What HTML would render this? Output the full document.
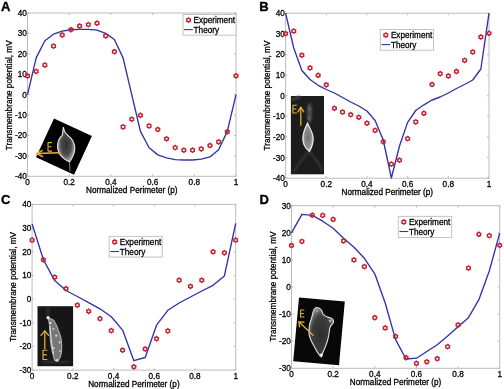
<!DOCTYPE html>
<html><head><meta charset="utf-8"><style>
html,body{margin:0;padding:0;background:#fff;}
svg{display:block;will-change:transform;filter:blur(0.3px);}
.t{font-family:"Liberation Sans", sans-serif;font-size:8.2px;fill:#000;stroke:#000;stroke-width:0.28px;}
.l{font-family:"Liberation Sans", sans-serif;font-size:8.2px;fill:#000;stroke:#000;stroke-width:0.28px;}
.L{font-family:"Liberation Sans", sans-serif;font-size:13px;font-weight:bold;fill:#000;stroke:#000;stroke-width:0.35px;}
</style></head><body>
<svg width="504" height="389" viewBox="0 0 504 389">
<rect width="504" height="389" fill="#fff"/>
<rect x="27.5" y="13.0" width="208.50" height="163.30" fill="none" stroke="#bcbcbc" stroke-width="1"/>
<line x1="27.50" y1="176.3" x2="27.50" y2="174.30" stroke="#bcbcbc" stroke-width="1"/>
<line x1="27.50" y1="13.0" x2="27.50" y2="15.00" stroke="#bcbcbc" stroke-width="1"/>
<text x="27.50" y="184.80" text-anchor="middle" class="t">0</text>
<line x1="69.20" y1="176.3" x2="69.20" y2="174.30" stroke="#bcbcbc" stroke-width="1"/>
<line x1="69.20" y1="13.0" x2="69.20" y2="15.00" stroke="#bcbcbc" stroke-width="1"/>
<text x="69.20" y="184.80" text-anchor="middle" class="t">0.2</text>
<line x1="110.90" y1="176.3" x2="110.90" y2="174.30" stroke="#bcbcbc" stroke-width="1"/>
<line x1="110.90" y1="13.0" x2="110.90" y2="15.00" stroke="#bcbcbc" stroke-width="1"/>
<text x="110.90" y="184.80" text-anchor="middle" class="t">0.4</text>
<line x1="152.60" y1="176.3" x2="152.60" y2="174.30" stroke="#bcbcbc" stroke-width="1"/>
<line x1="152.60" y1="13.0" x2="152.60" y2="15.00" stroke="#bcbcbc" stroke-width="1"/>
<text x="152.60" y="184.80" text-anchor="middle" class="t">0.6</text>
<line x1="194.30" y1="176.3" x2="194.30" y2="174.30" stroke="#bcbcbc" stroke-width="1"/>
<line x1="194.30" y1="13.0" x2="194.30" y2="15.00" stroke="#bcbcbc" stroke-width="1"/>
<text x="194.30" y="184.80" text-anchor="middle" class="t">0.8</text>
<line x1="236.00" y1="176.3" x2="236.00" y2="174.30" stroke="#bcbcbc" stroke-width="1"/>
<line x1="236.00" y1="13.0" x2="236.00" y2="15.00" stroke="#bcbcbc" stroke-width="1"/>
<text x="236.00" y="184.80" text-anchor="middle" class="t">1</text>
<line x1="27.5" y1="13.00" x2="29.5" y2="13.00" stroke="#bcbcbc" stroke-width="1"/>
<line x1="236" y1="13.00" x2="234" y2="13.00" stroke="#bcbcbc" stroke-width="1"/>
<text x="26.80" y="16.00" text-anchor="end" class="t">40</text>
<line x1="27.5" y1="33.41" x2="29.5" y2="33.41" stroke="#bcbcbc" stroke-width="1"/>
<line x1="236" y1="33.41" x2="234" y2="33.41" stroke="#bcbcbc" stroke-width="1"/>
<text x="26.80" y="36.41" text-anchor="end" class="t">30</text>
<line x1="27.5" y1="53.83" x2="29.5" y2="53.83" stroke="#bcbcbc" stroke-width="1"/>
<line x1="236" y1="53.83" x2="234" y2="53.83" stroke="#bcbcbc" stroke-width="1"/>
<text x="26.80" y="56.83" text-anchor="end" class="t">20</text>
<line x1="27.5" y1="74.24" x2="29.5" y2="74.24" stroke="#bcbcbc" stroke-width="1"/>
<line x1="236" y1="74.24" x2="234" y2="74.24" stroke="#bcbcbc" stroke-width="1"/>
<text x="26.80" y="77.24" text-anchor="end" class="t">10</text>
<line x1="27.5" y1="94.65" x2="29.5" y2="94.65" stroke="#bcbcbc" stroke-width="1"/>
<line x1="236" y1="94.65" x2="234" y2="94.65" stroke="#bcbcbc" stroke-width="1"/>
<text x="26.80" y="97.65" text-anchor="end" class="t">0</text>
<line x1="27.5" y1="115.06" x2="29.5" y2="115.06" stroke="#bcbcbc" stroke-width="1"/>
<line x1="236" y1="115.06" x2="234" y2="115.06" stroke="#bcbcbc" stroke-width="1"/>
<text x="26.80" y="118.06" text-anchor="end" class="t">-10</text>
<line x1="27.5" y1="135.48" x2="29.5" y2="135.48" stroke="#bcbcbc" stroke-width="1"/>
<line x1="236" y1="135.48" x2="234" y2="135.48" stroke="#bcbcbc" stroke-width="1"/>
<text x="26.80" y="138.48" text-anchor="end" class="t">-20</text>
<line x1="27.5" y1="155.89" x2="29.5" y2="155.89" stroke="#bcbcbc" stroke-width="1"/>
<line x1="236" y1="155.89" x2="234" y2="155.89" stroke="#bcbcbc" stroke-width="1"/>
<text x="26.80" y="158.89" text-anchor="end" class="t">-30</text>
<line x1="27.5" y1="176.30" x2="29.5" y2="176.30" stroke="#bcbcbc" stroke-width="1"/>
<line x1="236" y1="176.30" x2="234" y2="176.30" stroke="#bcbcbc" stroke-width="1"/>
<text x="26.80" y="179.30" text-anchor="end" class="t">-40</text>
<text x="131.75" y="193.10" text-anchor="middle" class="l">Normalized Perimeter (p)</text>
<text transform="translate(12.20,95.30) rotate(-90)" x="0" y="0" text-anchor="middle" class="l">Transmembrane potential, mV</text>
<text x="1.0" y="11.2" class="L">A</text>
<rect x="285.6" y="13.2" width="203.40" height="165.00" fill="none" stroke="#bcbcbc" stroke-width="1"/>
<line x1="285.60" y1="178.2" x2="285.60" y2="176.20" stroke="#bcbcbc" stroke-width="1"/>
<line x1="285.60" y1="13.2" x2="285.60" y2="15.20" stroke="#bcbcbc" stroke-width="1"/>
<text x="285.60" y="186.70" text-anchor="middle" class="t">0</text>
<line x1="326.28" y1="178.2" x2="326.28" y2="176.20" stroke="#bcbcbc" stroke-width="1"/>
<line x1="326.28" y1="13.2" x2="326.28" y2="15.20" stroke="#bcbcbc" stroke-width="1"/>
<text x="326.28" y="186.70" text-anchor="middle" class="t">0.2</text>
<line x1="366.96" y1="178.2" x2="366.96" y2="176.20" stroke="#bcbcbc" stroke-width="1"/>
<line x1="366.96" y1="13.2" x2="366.96" y2="15.20" stroke="#bcbcbc" stroke-width="1"/>
<text x="366.96" y="186.70" text-anchor="middle" class="t">0.4</text>
<line x1="407.64" y1="178.2" x2="407.64" y2="176.20" stroke="#bcbcbc" stroke-width="1"/>
<line x1="407.64" y1="13.2" x2="407.64" y2="15.20" stroke="#bcbcbc" stroke-width="1"/>
<text x="407.64" y="186.70" text-anchor="middle" class="t">0.6</text>
<line x1="448.32" y1="178.2" x2="448.32" y2="176.20" stroke="#bcbcbc" stroke-width="1"/>
<line x1="448.32" y1="13.2" x2="448.32" y2="15.20" stroke="#bcbcbc" stroke-width="1"/>
<text x="448.32" y="186.70" text-anchor="middle" class="t">0.8</text>
<line x1="489.00" y1="178.2" x2="489.00" y2="176.20" stroke="#bcbcbc" stroke-width="1"/>
<line x1="489.00" y1="13.2" x2="489.00" y2="15.20" stroke="#bcbcbc" stroke-width="1"/>
<text x="489.00" y="186.70" text-anchor="middle" class="t">1</text>
<line x1="285.6" y1="13.20" x2="287.6" y2="13.20" stroke="#bcbcbc" stroke-width="1"/>
<line x1="489" y1="13.20" x2="487" y2="13.20" stroke="#bcbcbc" stroke-width="1"/>
<text x="284.90" y="16.20" text-anchor="end" class="t">40</text>
<line x1="285.6" y1="33.83" x2="287.6" y2="33.83" stroke="#bcbcbc" stroke-width="1"/>
<line x1="489" y1="33.83" x2="487" y2="33.83" stroke="#bcbcbc" stroke-width="1"/>
<text x="284.90" y="36.83" text-anchor="end" class="t">30</text>
<line x1="285.6" y1="54.45" x2="287.6" y2="54.45" stroke="#bcbcbc" stroke-width="1"/>
<line x1="489" y1="54.45" x2="487" y2="54.45" stroke="#bcbcbc" stroke-width="1"/>
<text x="284.90" y="57.45" text-anchor="end" class="t">20</text>
<line x1="285.6" y1="75.08" x2="287.6" y2="75.08" stroke="#bcbcbc" stroke-width="1"/>
<line x1="489" y1="75.08" x2="487" y2="75.08" stroke="#bcbcbc" stroke-width="1"/>
<text x="284.90" y="78.08" text-anchor="end" class="t">10</text>
<line x1="285.6" y1="95.70" x2="287.6" y2="95.70" stroke="#bcbcbc" stroke-width="1"/>
<line x1="489" y1="95.70" x2="487" y2="95.70" stroke="#bcbcbc" stroke-width="1"/>
<text x="284.90" y="98.70" text-anchor="end" class="t">0</text>
<line x1="285.6" y1="116.33" x2="287.6" y2="116.33" stroke="#bcbcbc" stroke-width="1"/>
<line x1="489" y1="116.33" x2="487" y2="116.33" stroke="#bcbcbc" stroke-width="1"/>
<text x="284.90" y="119.33" text-anchor="end" class="t">-10</text>
<line x1="285.6" y1="136.95" x2="287.6" y2="136.95" stroke="#bcbcbc" stroke-width="1"/>
<line x1="489" y1="136.95" x2="487" y2="136.95" stroke="#bcbcbc" stroke-width="1"/>
<text x="284.90" y="139.95" text-anchor="end" class="t">-20</text>
<line x1="285.6" y1="157.57" x2="287.6" y2="157.57" stroke="#bcbcbc" stroke-width="1"/>
<line x1="489" y1="157.57" x2="487" y2="157.57" stroke="#bcbcbc" stroke-width="1"/>
<text x="284.90" y="160.57" text-anchor="end" class="t">-30</text>
<line x1="285.6" y1="178.20" x2="287.6" y2="178.20" stroke="#bcbcbc" stroke-width="1"/>
<line x1="489" y1="178.20" x2="487" y2="178.20" stroke="#bcbcbc" stroke-width="1"/>
<text x="284.90" y="181.20" text-anchor="end" class="t">-40</text>
<text x="387.30" y="195.00" text-anchor="middle" class="l">Normalized Perimeter (p)</text>
<text transform="translate(270.30,95.55) rotate(-90)" x="0" y="0" text-anchor="middle" class="l">Transmembrane potential, mV</text>
<text x="259.3" y="11.0" class="L">B</text>
<rect x="32.1" y="204.4" width="203.60" height="165.70" fill="none" stroke="#bcbcbc" stroke-width="1"/>
<line x1="32.10" y1="370.1" x2="32.10" y2="368.10" stroke="#bcbcbc" stroke-width="1"/>
<line x1="32.10" y1="204.4" x2="32.10" y2="206.40" stroke="#bcbcbc" stroke-width="1"/>
<text x="32.10" y="378.60" text-anchor="middle" class="t">0</text>
<line x1="72.82" y1="370.1" x2="72.82" y2="368.10" stroke="#bcbcbc" stroke-width="1"/>
<line x1="72.82" y1="204.4" x2="72.82" y2="206.40" stroke="#bcbcbc" stroke-width="1"/>
<text x="72.82" y="378.60" text-anchor="middle" class="t">0.2</text>
<line x1="113.54" y1="370.1" x2="113.54" y2="368.10" stroke="#bcbcbc" stroke-width="1"/>
<line x1="113.54" y1="204.4" x2="113.54" y2="206.40" stroke="#bcbcbc" stroke-width="1"/>
<text x="113.54" y="378.60" text-anchor="middle" class="t">0.4</text>
<line x1="154.26" y1="370.1" x2="154.26" y2="368.10" stroke="#bcbcbc" stroke-width="1"/>
<line x1="154.26" y1="204.4" x2="154.26" y2="206.40" stroke="#bcbcbc" stroke-width="1"/>
<text x="154.26" y="378.60" text-anchor="middle" class="t">0.6</text>
<line x1="194.98" y1="370.1" x2="194.98" y2="368.10" stroke="#bcbcbc" stroke-width="1"/>
<line x1="194.98" y1="204.4" x2="194.98" y2="206.40" stroke="#bcbcbc" stroke-width="1"/>
<text x="194.98" y="378.60" text-anchor="middle" class="t">0.8</text>
<line x1="235.70" y1="370.1" x2="235.70" y2="368.10" stroke="#bcbcbc" stroke-width="1"/>
<line x1="235.70" y1="204.4" x2="235.70" y2="206.40" stroke="#bcbcbc" stroke-width="1"/>
<text x="235.70" y="378.60" text-anchor="middle" class="t">1</text>
<line x1="32.1" y1="204.40" x2="34.1" y2="204.40" stroke="#bcbcbc" stroke-width="1"/>
<line x1="235.7" y1="204.40" x2="233.7" y2="204.40" stroke="#bcbcbc" stroke-width="1"/>
<text x="31.40" y="207.40" text-anchor="end" class="t">40</text>
<line x1="32.1" y1="228.07" x2="34.1" y2="228.07" stroke="#bcbcbc" stroke-width="1"/>
<line x1="235.7" y1="228.07" x2="233.7" y2="228.07" stroke="#bcbcbc" stroke-width="1"/>
<text x="31.40" y="231.07" text-anchor="end" class="t">30</text>
<line x1="32.1" y1="251.74" x2="34.1" y2="251.74" stroke="#bcbcbc" stroke-width="1"/>
<line x1="235.7" y1="251.74" x2="233.7" y2="251.74" stroke="#bcbcbc" stroke-width="1"/>
<text x="31.40" y="254.74" text-anchor="end" class="t">20</text>
<line x1="32.1" y1="275.41" x2="34.1" y2="275.41" stroke="#bcbcbc" stroke-width="1"/>
<line x1="235.7" y1="275.41" x2="233.7" y2="275.41" stroke="#bcbcbc" stroke-width="1"/>
<text x="31.40" y="278.41" text-anchor="end" class="t">10</text>
<line x1="32.1" y1="299.09" x2="34.1" y2="299.09" stroke="#bcbcbc" stroke-width="1"/>
<line x1="235.7" y1="299.09" x2="233.7" y2="299.09" stroke="#bcbcbc" stroke-width="1"/>
<text x="31.40" y="302.09" text-anchor="end" class="t">0</text>
<line x1="32.1" y1="322.76" x2="34.1" y2="322.76" stroke="#bcbcbc" stroke-width="1"/>
<line x1="235.7" y1="322.76" x2="233.7" y2="322.76" stroke="#bcbcbc" stroke-width="1"/>
<text x="31.40" y="325.76" text-anchor="end" class="t">-10</text>
<line x1="32.1" y1="346.43" x2="34.1" y2="346.43" stroke="#bcbcbc" stroke-width="1"/>
<line x1="235.7" y1="346.43" x2="233.7" y2="346.43" stroke="#bcbcbc" stroke-width="1"/>
<text x="31.40" y="349.43" text-anchor="end" class="t">-20</text>
<line x1="32.1" y1="370.10" x2="34.1" y2="370.10" stroke="#bcbcbc" stroke-width="1"/>
<line x1="235.7" y1="370.10" x2="233.7" y2="370.10" stroke="#bcbcbc" stroke-width="1"/>
<text x="31.40" y="373.10" text-anchor="end" class="t">-30</text>
<text x="133.90" y="386.90" text-anchor="middle" class="l">Normalized Perimeter (p)</text>
<text transform="translate(16.30,286.95) rotate(-90)" x="0" y="0" text-anchor="middle" class="l">Transmembrane potential, mV</text>
<text x="1.0" y="204.3" class="L">C</text>
<rect x="291.5" y="205.7" width="208.20" height="162.60" fill="none" stroke="#bcbcbc" stroke-width="1"/>
<line x1="291.50" y1="368.3" x2="291.50" y2="366.30" stroke="#bcbcbc" stroke-width="1"/>
<line x1="291.50" y1="205.7" x2="291.50" y2="207.70" stroke="#bcbcbc" stroke-width="1"/>
<text x="291.50" y="376.80" text-anchor="middle" class="t">0</text>
<line x1="333.14" y1="368.3" x2="333.14" y2="366.30" stroke="#bcbcbc" stroke-width="1"/>
<line x1="333.14" y1="205.7" x2="333.14" y2="207.70" stroke="#bcbcbc" stroke-width="1"/>
<text x="333.14" y="376.80" text-anchor="middle" class="t">0.2</text>
<line x1="374.78" y1="368.3" x2="374.78" y2="366.30" stroke="#bcbcbc" stroke-width="1"/>
<line x1="374.78" y1="205.7" x2="374.78" y2="207.70" stroke="#bcbcbc" stroke-width="1"/>
<text x="374.78" y="376.80" text-anchor="middle" class="t">0.4</text>
<line x1="416.42" y1="368.3" x2="416.42" y2="366.30" stroke="#bcbcbc" stroke-width="1"/>
<line x1="416.42" y1="205.7" x2="416.42" y2="207.70" stroke="#bcbcbc" stroke-width="1"/>
<text x="416.42" y="376.80" text-anchor="middle" class="t">0.6</text>
<line x1="458.06" y1="368.3" x2="458.06" y2="366.30" stroke="#bcbcbc" stroke-width="1"/>
<line x1="458.06" y1="205.7" x2="458.06" y2="207.70" stroke="#bcbcbc" stroke-width="1"/>
<text x="458.06" y="376.80" text-anchor="middle" class="t">0.8</text>
<line x1="499.70" y1="368.3" x2="499.70" y2="366.30" stroke="#bcbcbc" stroke-width="1"/>
<line x1="499.70" y1="205.7" x2="499.70" y2="207.70" stroke="#bcbcbc" stroke-width="1"/>
<text x="499.70" y="376.80" text-anchor="middle" class="t">1</text>
<line x1="291.5" y1="205.70" x2="293.5" y2="205.70" stroke="#bcbcbc" stroke-width="1"/>
<line x1="499.7" y1="205.70" x2="497.7" y2="205.70" stroke="#bcbcbc" stroke-width="1"/>
<text x="290.80" y="208.70" text-anchor="end" class="t">30</text>
<line x1="291.5" y1="232.80" x2="293.5" y2="232.80" stroke="#bcbcbc" stroke-width="1"/>
<line x1="499.7" y1="232.80" x2="497.7" y2="232.80" stroke="#bcbcbc" stroke-width="1"/>
<text x="290.80" y="235.80" text-anchor="end" class="t">20</text>
<line x1="291.5" y1="259.90" x2="293.5" y2="259.90" stroke="#bcbcbc" stroke-width="1"/>
<line x1="499.7" y1="259.90" x2="497.7" y2="259.90" stroke="#bcbcbc" stroke-width="1"/>
<text x="290.80" y="262.90" text-anchor="end" class="t">10</text>
<line x1="291.5" y1="287.00" x2="293.5" y2="287.00" stroke="#bcbcbc" stroke-width="1"/>
<line x1="499.7" y1="287.00" x2="497.7" y2="287.00" stroke="#bcbcbc" stroke-width="1"/>
<text x="290.80" y="290.00" text-anchor="end" class="t">0</text>
<line x1="291.5" y1="314.10" x2="293.5" y2="314.10" stroke="#bcbcbc" stroke-width="1"/>
<line x1="499.7" y1="314.10" x2="497.7" y2="314.10" stroke="#bcbcbc" stroke-width="1"/>
<text x="290.80" y="317.10" text-anchor="end" class="t">-10</text>
<line x1="291.5" y1="341.20" x2="293.5" y2="341.20" stroke="#bcbcbc" stroke-width="1"/>
<line x1="499.7" y1="341.20" x2="497.7" y2="341.20" stroke="#bcbcbc" stroke-width="1"/>
<text x="290.80" y="344.20" text-anchor="end" class="t">-20</text>
<line x1="291.5" y1="368.30" x2="293.5" y2="368.30" stroke="#bcbcbc" stroke-width="1"/>
<line x1="499.7" y1="368.30" x2="497.7" y2="368.30" stroke="#bcbcbc" stroke-width="1"/>
<text x="290.80" y="371.30" text-anchor="end" class="t">-30</text>
<text x="395.60" y="385.10" text-anchor="middle" class="l">Normalized Perimeter (p)</text>
<text transform="translate(275.70,286.50) rotate(-90)" x="0" y="0" text-anchor="middle" class="l">Transmembrane potential, mV</text>
<text x="259.5" y="203.6" class="L">D</text>
<defs>
<radialGradient id="cg" cx="50%" cy="50%" r="50%">
<stop offset="0" stop-color="#303030"/><stop offset="0.6" stop-color="#4c4c4c"/><stop offset="1" stop-color="#a8a8a8"/>
</radialGradient>
<radialGradient id="cg2" cx="50%" cy="50%" r="50%">
<stop offset="0" stop-color="#707070"/><stop offset="0.7" stop-color="#909090"/><stop offset="1" stop-color="#d0d0d0"/>
</radialGradient>
<filter id="bl" x="-20%" y="-20%" width="140%" height="140%"><feGaussianBlur stdDeviation="0.45"/></filter>
<filter id="bl2" x="-20%" y="-20%" width="140%" height="140%"><feGaussianBlur stdDeviation="0.8"/></filter>
</defs>
<!-- A inset -->
<g transform="translate(64.0,146.6) rotate(24.8)"><rect x="-20.9" y="-21.3" width="41.8" height="42.6" fill="#000"/></g>
<g filter="url(#bl)">
<path d="M63.4,127 C64,131 65.5,133.5 68,135.5 C72.5,139 75,144 74.8,149 C74.6,154 72,158.5 69.5,162 C65,160 58,155 57.6,148 C57.3,142 59.5,137.5 62.2,135.5 C62.8,132 63,129.5 63.4,127 Z" fill="url(#cg)" stroke="#e0e0e0" stroke-width="1.1"/>
<path d="M69.5,162 L70,171" stroke="#9a9a9a" stroke-width="0.9"/>
</g>
<g stroke="#eab230" stroke-width="1.5" fill="none" stroke-linecap="round" stroke-linejoin="round">
<path d="M58.9,152.7 L36.8,153.6"/><path d="M42.2,150.7 L36.7,153.6 L42.6,156.5"/>
<path d="M52,142.6 H48 V151.1 H52 M48,146.8 H51.5" stroke-width="1.05" stroke-linecap="butt"/>
</g>
<!-- B inset -->
<rect x="290.9" y="96" width="33.1" height="78.3" fill="#1c1c1c"/>
<g filter="url(#bl2)">
<path d="M291.5,100 L300,96.5" stroke="#4a4a4a" stroke-width="2" fill="none"/>
<ellipse cx="309.5" cy="113" rx="2.4" ry="10.5" fill="#4e4e4e"/><circle cx="309.5" cy="109" r="1.2" fill="#777"/><circle cx="308.8" cy="118" r="1.3" fill="#808080"/>
<path d="M309,151 L298,165 M309,151 L320,165 M298,165 L294,172 M320,165 L322,171" stroke="#3e3e3e" stroke-width="1.6" fill="none"/>
</g>
<g filter="url(#bl)">
<path d="M307.5,123 C309,127 312,131 313,136 C313.8,141 312,147 309.5,151.5 C306,149 303,145 302.8,139 C302.6,134 305,128 307.5,123 Z" fill="url(#cg2)" stroke="#eeeeee" stroke-width="1.05"/>

</g>
<g stroke="#eab230" stroke-width="1.25" fill="none" stroke-linecap="round" stroke-linejoin="round">
<path d="M300.8,125.2 V107.4"/><path d="M297.9,111.8 L300.8,107.2 L303.8,111.8"/>
<path d="M296.9,105.2 H292.9 V112.9 H296.9 M292.9,109 H296.4" stroke-width="1.05" stroke-linecap="butt"/>
</g>
<!-- C inset -->
<rect x="37.5" y="306.2" width="35.6" height="60" fill="#161616"/>
<g filter="url(#bl2)">
<path d="M48,308 L48,316" stroke="#3a3a3a" stroke-width="2" fill="none"/>
<path d="M42,362 L70,362" stroke="#303030" stroke-width="2" fill="none"/>
</g>
<g filter="url(#bl)">
<path d="M48.5,318 C51,319 53,319.5 54,320.7 C56,324 57.5,327 58.4,330.4 C60,334 61,337 61.4,340.8 C61.8,345 61.8,349 61.4,352.8 C61,356 60,358.5 58.4,360.2 C57,361 55.5,361 54.7,360.2 C53,356 52,350 51,345.3 C50.2,338 49.8,330 49.5,324.4 C49,322 48.5,320 48.5,318 Z" fill="#767676" stroke="#a8a8a8" stroke-width="1.2"/>
<path d="M50,326 C50.5,335 51.5,344 53.5,354" stroke="#d8d8d8" stroke-width="1.1" fill="none"/>
<circle cx="53.5" cy="329" r="1" fill="#c8c8c8"/>
<circle cx="54" cy="348" r="1.1" fill="#c0c0c0"/>
<circle cx="60" cy="351" r="0.9" fill="#c8c8c8"/>
<circle cx="48" cy="317.7" r="1.6" fill="#eeeeee"/>
<circle cx="50.4" cy="323" r="1.2" fill="#dddddd"/>
<circle cx="56.2" cy="335.6" r="1.2" fill="#d0d0d0"/>
<circle cx="59.6" cy="342.3" r="1.1" fill="#d0d0d0"/>
<circle cx="57" cy="360.3" r="1.5" fill="#cccccc"/>
</g>
<g stroke="#eab230" stroke-width="1.25" fill="none" stroke-linecap="round" stroke-linejoin="round">
<path d="M44.8,348.7 V331"/><path d="M41,335.3 L44.8,330.8 L48.6,335.3"/>
<path d="M47.3,350.3 H43 V359.5 H47.3 M43,354.9 H46.8" stroke-width="1.1" stroke-linecap="butt"/>
</g>
<!-- D inset -->
<g transform="translate(319,331.4) rotate(5.2)"><rect x="-23" y="-32" width="46" height="64" fill="#080808"/></g>
<radialGradient id="cg3" cx="50%" cy="55%" r="55%">
<stop offset="0" stop-color="#2c2c2c"/><stop offset="0.7" stop-color="#3e3e3e"/><stop offset="1" stop-color="#8a8a8a"/>
</radialGradient>
<g filter="url(#bl)">
<path d="M316.7,307.5 C319.5,307.5 322,310 323,314 C325,317 327,317 331,318 C334,319.5 334.5,322.5 332,324.5 C330,326 329.5,328 329.3,331.5 C328.8,338 326,346 322.5,353.5 C322,355.5 321.5,357 321.3,357 C320,356 317,352 314.4,346.8 C311,341 309,337 309,333 C308.8,328 309.5,323 311.3,319 C312.5,315 313,311 314,309.5 C315,308 316,307.5 316.7,307.5 Z" fill="url(#cg3)" stroke="#dcdcdc" stroke-width="1.1"/>
<circle cx="321.4" cy="355" r="1.4" fill="#f4f4f4"/>
<circle cx="317" cy="311" r="1.2" fill="#9a9a9a"/>
<circle cx="330" cy="321" r="1.3" fill="#aaaaaa"/>
</g>
<g stroke="#eab230" stroke-width="1.25" fill="none" stroke-linecap="round" stroke-linejoin="round">
<path d="M313.2,335.4 L299,322"/><path d="M299.6,326.8 L298.8,321.8 L304,322.2"/>
<path d="M304.3,310 H300.6 V317 H304.3 M300.6,313.5 H303.8" stroke-width="1.05" stroke-linecap="butt"/>
</g>

<polyline points="27.50,94.65 36.19,57.91 44.88,40.76 53.56,34.23 62.25,31.17 70.94,29.74 79.62,29.33 88.31,29.33 97.00,30.15 105.69,33.41 114.38,39.54 123.06,57.91 131.75,94.65 140.44,131.39 149.12,147.72 157.81,154.87 166.50,157.93 175.19,159.56 183.88,159.97 192.56,159.97 201.25,159.15 209.94,156.91 218.62,149.76 227.31,131.39 236.00,94.65" fill="none" stroke="#3232a8" stroke-width="1.35" stroke-linejoin="round"/>
<polygon points="27.50,73.85 26.66,74.55 25.64,74.92 25.82,76.00 25.64,77.08 26.66,77.45 27.50,78.15 28.34,77.45 29.36,77.08 29.18,76.00 29.36,74.92 28.34,74.55" fill="none" stroke="#c41f30" stroke-width="1.45"/>
<polygon points="36.19,69.25 35.35,69.95 34.33,70.33 34.51,71.40 34.33,72.48 35.35,72.85 36.19,73.55 37.03,72.85 38.05,72.48 37.86,71.40 38.05,70.33 37.03,69.95" fill="none" stroke="#c41f30" stroke-width="1.45"/>
<polygon points="44.88,62.95 44.04,63.65 43.01,64.02 43.20,65.10 43.01,66.17 44.04,66.55 44.88,67.25 45.71,66.55 46.74,66.17 46.55,65.10 46.74,64.02 45.71,63.65" fill="none" stroke="#c41f30" stroke-width="1.45"/>
<polygon points="53.56,43.95 52.72,44.65 51.70,45.02 51.89,46.10 51.70,47.17 52.72,47.55 53.56,48.25 54.40,47.55 55.42,47.18 55.24,46.10 55.42,45.02 54.40,44.65" fill="none" stroke="#c41f30" stroke-width="1.45"/>
<polygon points="62.25,32.85 61.41,33.55 60.39,33.92 60.57,35.00 60.39,36.08 61.41,36.45 62.25,37.15 63.09,36.45 64.11,36.08 63.93,35.00 64.11,33.92 63.09,33.55" fill="none" stroke="#c41f30" stroke-width="1.45"/>
<polygon points="70.94,27.55 70.10,28.25 69.08,28.62 69.26,29.70 69.08,30.77 70.10,31.15 70.94,31.85 71.78,31.15 72.80,30.77 72.61,29.70 72.80,28.62 71.78,28.25" fill="none" stroke="#c41f30" stroke-width="1.45"/>
<polygon points="79.62,23.85 78.79,24.55 77.76,24.93 77.95,26.00 77.76,27.07 78.79,27.45 79.62,28.15 80.46,27.45 81.49,27.07 81.30,26.00 81.49,24.93 80.46,24.55" fill="none" stroke="#c41f30" stroke-width="1.45"/>
<polygon points="88.31,22.45 87.47,23.15 86.45,23.53 86.64,24.60 86.45,25.68 87.47,26.05 88.31,26.75 89.15,26.05 90.17,25.68 89.99,24.60 90.17,23.53 89.15,23.15" fill="none" stroke="#c41f30" stroke-width="1.45"/>
<polygon points="97.00,21.05 96.16,21.75 95.14,22.12 95.32,23.20 95.14,24.27 96.16,24.65 97.00,25.35 97.84,24.65 98.86,24.27 98.68,23.20 98.86,22.12 97.84,21.75" fill="none" stroke="#c41f30" stroke-width="1.45"/>
<polygon points="105.69,33.75 104.85,34.45 103.83,34.82 104.01,35.90 103.83,36.97 104.85,37.35 105.69,38.05 106.53,37.35 107.55,36.98 107.36,35.90 107.55,34.82 106.53,34.45" fill="none" stroke="#c41f30" stroke-width="1.45"/>
<polygon points="114.38,49.55 113.54,50.25 112.51,50.62 112.70,51.70 112.51,52.78 113.54,53.15 114.38,53.85 115.21,53.15 116.24,52.78 116.05,51.70 116.24,50.62 115.21,50.25" fill="none" stroke="#c41f30" stroke-width="1.45"/>
<polygon points="123.06,124.75 122.22,125.45 121.20,125.83 121.39,126.90 121.20,127.98 122.22,128.35 123.06,129.05 123.90,128.35 124.92,127.98 124.74,126.90 124.92,125.83 123.90,125.45" fill="none" stroke="#c41f30" stroke-width="1.45"/>
<polygon points="131.75,117.05 130.91,117.75 129.89,118.12 130.07,119.20 129.89,120.28 130.91,120.65 131.75,121.35 132.59,120.65 133.61,120.28 133.43,119.20 133.61,118.12 132.59,117.75" fill="none" stroke="#c41f30" stroke-width="1.45"/>
<polygon points="140.44,113.15 139.60,113.85 138.58,114.22 138.76,115.30 138.58,116.38 139.60,116.75 140.44,117.45 141.28,116.75 142.30,116.38 142.11,115.30 142.30,114.22 141.28,113.85" fill="none" stroke="#c41f30" stroke-width="1.45"/>
<polygon points="149.12,123.75 148.29,124.45 147.26,124.83 147.45,125.90 147.26,126.98 148.29,127.35 149.12,128.05 149.96,127.35 150.99,126.98 150.80,125.90 150.99,124.83 149.96,124.45" fill="none" stroke="#c41f30" stroke-width="1.45"/>
<polygon points="157.81,127.35 156.97,128.05 155.95,128.43 156.14,129.50 155.95,130.57 156.97,130.95 157.81,131.65 158.65,130.95 159.67,130.57 159.49,129.50 159.67,128.43 158.65,128.05" fill="none" stroke="#c41f30" stroke-width="1.45"/>
<polygon points="166.50,136.65 165.66,137.35 164.64,137.73 164.82,138.80 164.64,139.88 165.66,140.25 166.50,140.95 167.34,140.25 168.36,139.88 168.18,138.80 168.36,137.73 167.34,137.35" fill="none" stroke="#c41f30" stroke-width="1.45"/>
<polygon points="175.19,145.45 174.35,146.15 173.33,146.53 173.51,147.60 173.33,148.67 174.35,149.05 175.19,149.75 176.03,149.05 177.05,148.67 176.86,147.60 177.05,146.53 176.03,146.15" fill="none" stroke="#c41f30" stroke-width="1.45"/>
<polygon points="183.88,148.05 183.04,148.75 182.01,149.12 182.20,150.20 182.01,151.27 183.04,151.65 183.88,152.35 184.71,151.65 185.74,151.27 185.55,150.20 185.74,149.12 184.71,148.75" fill="none" stroke="#c41f30" stroke-width="1.45"/>
<polygon points="192.56,148.05 191.72,148.75 190.70,149.12 190.89,150.20 190.70,151.27 191.72,151.65 192.56,152.35 193.40,151.65 194.42,151.27 194.24,150.20 194.42,149.12 193.40,148.75" fill="none" stroke="#c41f30" stroke-width="1.45"/>
<polygon points="201.25,146.75 200.41,147.45 199.39,147.83 199.57,148.90 199.39,149.97 200.41,150.35 201.25,151.05 202.09,150.35 203.11,149.97 202.93,148.90 203.11,147.83 202.09,147.45" fill="none" stroke="#c41f30" stroke-width="1.45"/>
<polygon points="209.94,143.35 209.10,144.05 208.08,144.43 208.26,145.50 208.08,146.57 209.10,146.95 209.94,147.65 210.78,146.95 211.80,146.57 211.61,145.50 211.80,144.43 210.78,144.05" fill="none" stroke="#c41f30" stroke-width="1.45"/>
<polygon points="218.62,139.75 217.79,140.45 216.76,140.83 216.95,141.90 216.76,142.97 217.79,143.35 218.62,144.05 219.46,143.35 220.49,142.97 220.30,141.90 220.49,140.83 219.46,140.45" fill="none" stroke="#c41f30" stroke-width="1.45"/>
<polygon points="227.31,129.65 226.47,130.35 225.45,130.73 225.64,131.80 225.45,132.88 226.47,133.25 227.31,133.95 228.15,133.25 229.17,132.88 228.99,131.80 229.17,130.73 228.15,130.35" fill="none" stroke="#c41f30" stroke-width="1.45"/>
<polygon points="236.00,73.65 235.16,74.35 234.14,74.72 234.32,75.80 234.14,76.88 235.16,77.25 236.00,77.95 236.84,77.25 237.86,76.88 237.68,75.80 237.86,74.72 236.84,74.35" fill="none" stroke="#c41f30" stroke-width="1.45"/>
<polyline points="285.60,13.20 293.74,48.00 301.87,70.50 310.01,79.50 318.14,85.30 326.28,89.50 334.42,93.00 342.55,97.50 350.69,102.00 358.82,106.00 366.96,111.00 375.10,120.50 383.23,140.00 391.37,178.00 399.50,146.00 407.64,122.40 415.78,110.50 423.91,104.80 432.05,100.00 440.18,97.00 448.32,93.00 456.46,88.50 464.59,84.50 472.73,80.00 480.86,69.00 489.00,13.20" fill="none" stroke="#3232a8" stroke-width="1.35" stroke-linejoin="round"/>
<polygon points="285.60,31.45 284.76,32.15 283.74,32.52 283.92,33.60 283.74,34.67 284.76,35.05 285.60,35.75 286.44,35.05 287.46,34.68 287.28,33.60 287.46,32.52 286.44,32.15" fill="none" stroke="#c41f30" stroke-width="1.45"/>
<polygon points="293.74,28.95 292.90,29.65 291.87,30.03 292.06,31.10 291.87,32.17 292.90,32.55 293.74,33.25 294.57,32.55 295.60,32.18 295.41,31.10 295.60,30.03 294.57,29.65" fill="none" stroke="#c41f30" stroke-width="1.45"/>
<polygon points="301.87,53.05 301.03,53.75 300.01,54.12 300.19,55.20 300.01,56.28 301.03,56.65 301.87,57.35 302.71,56.65 303.73,56.28 303.55,55.20 303.73,54.12 302.71,53.75" fill="none" stroke="#c41f30" stroke-width="1.45"/>
<polygon points="310.01,65.75 309.17,66.45 308.15,66.83 308.33,67.90 308.15,68.98 309.17,69.35 310.01,70.05 310.85,69.35 311.87,68.98 311.69,67.90 311.87,66.83 310.85,66.45" fill="none" stroke="#c41f30" stroke-width="1.45"/>
<polygon points="318.14,73.15 317.31,73.85 316.28,74.22 316.47,75.30 316.28,76.38 317.31,76.75 318.14,77.45 318.98,76.75 320.01,76.38 319.82,75.30 320.01,74.22 318.98,73.85" fill="none" stroke="#c41f30" stroke-width="1.45"/>
<polygon points="326.28,82.65 325.44,83.35 324.42,83.72 324.60,84.80 324.42,85.88 325.44,86.25 326.28,86.95 327.12,86.25 328.14,85.88 327.96,84.80 328.14,83.72 327.12,83.35" fill="none" stroke="#c41f30" stroke-width="1.45"/>
<polygon points="334.42,106.15 333.58,106.85 332.55,107.22 332.74,108.30 332.55,109.38 333.58,109.75 334.42,110.45 335.25,109.75 336.28,109.38 336.09,108.30 336.28,107.22 335.25,106.85" fill="none" stroke="#c41f30" stroke-width="1.45"/>
<polygon points="342.55,109.95 341.71,110.65 340.69,111.02 340.88,112.10 340.69,113.17 341.71,113.55 342.55,114.25 343.39,113.55 344.41,113.17 344.23,112.10 344.41,111.02 343.39,110.65" fill="none" stroke="#c41f30" stroke-width="1.45"/>
<polygon points="350.69,112.55 349.85,113.25 348.83,113.62 349.01,114.70 348.83,115.78 349.85,116.15 350.69,116.85 351.53,116.15 352.55,115.78 352.37,114.70 352.55,113.62 351.53,113.25" fill="none" stroke="#c41f30" stroke-width="1.45"/>
<polygon points="358.82,115.15 357.99,115.85 356.96,116.22 357.15,117.30 356.96,118.38 357.99,118.75 358.82,119.45 359.66,118.75 360.69,118.38 360.50,117.30 360.69,116.22 359.66,115.85" fill="none" stroke="#c41f30" stroke-width="1.45"/>
<polygon points="366.96,121.05 366.12,121.75 365.10,122.12 365.28,123.20 365.10,124.28 366.12,124.65 366.96,125.35 367.80,124.65 368.82,124.28 368.64,123.20 368.82,122.12 367.80,121.75" fill="none" stroke="#c41f30" stroke-width="1.45"/>
<polygon points="375.10,128.25 374.26,128.95 373.23,129.33 373.42,130.40 373.23,131.47 374.26,131.85 375.10,132.55 375.93,131.85 376.96,131.47 376.77,130.40 376.96,129.33 375.93,128.95" fill="none" stroke="#c41f30" stroke-width="1.45"/>
<polygon points="383.23,139.55 382.39,140.25 381.37,140.62 381.56,141.70 381.37,142.77 382.39,143.15 383.23,143.85 384.07,143.15 385.09,142.77 384.91,141.70 385.09,140.62 384.07,140.25" fill="none" stroke="#c41f30" stroke-width="1.45"/>
<polygon points="391.37,161.95 390.53,162.65 389.51,163.03 389.69,164.10 389.51,165.17 390.53,165.55 391.37,166.25 392.21,165.55 393.23,165.17 393.05,164.10 393.23,163.03 392.21,162.65" fill="none" stroke="#c41f30" stroke-width="1.45"/>
<polygon points="399.50,158.05 398.67,158.75 397.64,159.12 397.83,160.20 397.64,161.27 398.67,161.65 399.50,162.35 400.34,161.65 401.37,161.27 401.18,160.20 401.37,159.12 400.34,158.75" fill="none" stroke="#c41f30" stroke-width="1.45"/>
<polygon points="407.64,136.45 406.80,137.15 405.78,137.53 405.96,138.60 405.78,139.67 406.80,140.05 407.64,140.75 408.48,140.05 409.50,139.67 409.32,138.60 409.50,137.53 408.48,137.15" fill="none" stroke="#c41f30" stroke-width="1.45"/>
<polygon points="415.78,119.75 414.94,120.45 413.91,120.83 414.10,121.90 413.91,122.98 414.94,123.35 415.78,124.05 416.61,123.35 417.64,122.98 417.45,121.90 417.64,120.83 416.61,120.45" fill="none" stroke="#c41f30" stroke-width="1.45"/>
<polygon points="423.91,111.15 423.07,111.85 422.05,112.22 422.24,113.30 422.05,114.38 423.07,114.75 423.91,115.45 424.75,114.75 425.77,114.38 425.59,113.30 425.77,112.22 424.75,111.85" fill="none" stroke="#c41f30" stroke-width="1.45"/>
<polygon points="432.05,82.35 431.21,83.05 430.19,83.42 430.37,84.50 430.19,85.58 431.21,85.95 432.05,86.65 432.89,85.95 433.91,85.58 433.73,84.50 433.91,83.42 432.89,83.05" fill="none" stroke="#c41f30" stroke-width="1.45"/>
<polygon points="440.18,71.55 439.35,72.25 438.32,72.62 438.51,73.70 438.32,74.78 439.35,75.15 440.18,75.85 441.02,75.15 442.05,74.78 441.86,73.70 442.05,72.62 441.02,72.25" fill="none" stroke="#c41f30" stroke-width="1.45"/>
<polygon points="448.32,73.85 447.48,74.55 446.46,74.92 446.64,76.00 446.46,77.08 447.48,77.45 448.32,78.15 449.16,77.45 450.18,77.08 450.00,76.00 450.18,74.92 449.16,74.55" fill="none" stroke="#c41f30" stroke-width="1.45"/>
<polygon points="456.46,69.35 455.62,70.05 454.59,70.42 454.78,71.50 454.59,72.58 455.62,72.95 456.46,73.65 457.29,72.95 458.32,72.58 458.13,71.50 458.32,70.42 457.29,70.05" fill="none" stroke="#c41f30" stroke-width="1.45"/>
<polygon points="464.59,58.25 463.75,58.95 462.73,59.32 462.91,60.40 462.73,61.47 463.75,61.85 464.59,62.55 465.43,61.85 466.45,61.48 466.27,60.40 466.45,59.32 465.43,58.95" fill="none" stroke="#c41f30" stroke-width="1.45"/>
<polygon points="472.73,49.85 471.89,50.55 470.87,50.92 471.05,52.00 470.87,53.08 471.89,53.45 472.73,54.15 473.57,53.45 474.59,53.08 474.41,52.00 474.59,50.92 473.57,50.55" fill="none" stroke="#c41f30" stroke-width="1.45"/>
<polygon points="480.86,34.85 480.03,35.55 479.00,35.92 479.19,37.00 479.00,38.08 480.03,38.45 480.86,39.15 481.70,38.45 482.73,38.08 482.54,37.00 482.73,35.92 481.70,35.55" fill="none" stroke="#c41f30" stroke-width="1.45"/>
<polygon points="489.00,31.15 488.16,31.85 487.14,32.22 487.32,33.30 487.14,34.38 488.16,34.75 489.00,35.45 489.84,34.75 490.86,34.38 490.68,33.30 490.86,32.22 489.84,31.85" fill="none" stroke="#c41f30" stroke-width="1.45"/>
<polyline points="32.10,223.90 43.41,259.80 54.72,280.60 66.03,290.50 77.34,296.50 88.66,302.60 99.97,308.80 111.28,316.70 122.59,330.10 133.90,360.70 145.21,357.50 156.52,325.20 167.83,310.30 179.14,303.00 190.46,297.00 201.77,291.00 213.08,285.30 224.39,275.90 235.70,223.40" fill="none" stroke="#3232a8" stroke-width="1.35" stroke-linejoin="round"/>
<polygon points="32.10,237.95 31.26,238.65 30.24,239.03 30.42,240.10 30.24,241.17 31.26,241.55 32.10,242.25 32.94,241.55 33.96,241.17 33.78,240.10 33.96,239.03 32.94,238.65" fill="none" stroke="#c41f30" stroke-width="1.45"/>
<polygon points="43.41,257.65 42.57,258.35 41.55,258.73 41.73,259.80 41.55,260.88 42.57,261.25 43.41,261.95 44.25,261.25 45.27,260.88 45.09,259.80 45.27,258.73 44.25,258.35" fill="none" stroke="#c41f30" stroke-width="1.45"/>
<polygon points="54.72,275.05 53.88,275.75 52.86,276.12 53.05,277.20 52.86,278.27 53.88,278.65 54.72,279.35 55.56,278.65 56.58,278.27 56.40,277.20 56.58,276.12 55.56,275.75" fill="none" stroke="#c41f30" stroke-width="1.45"/>
<polygon points="66.03,286.55 65.19,287.25 64.17,287.62 64.36,288.70 64.17,289.77 65.19,290.15 66.03,290.85 66.87,290.15 67.90,289.77 67.71,288.70 67.90,287.62 66.87,287.25" fill="none" stroke="#c41f30" stroke-width="1.45"/>
<polygon points="77.34,303.05 76.51,303.75 75.48,304.12 75.67,305.20 75.48,306.27 76.51,306.65 77.34,307.35 78.18,306.65 79.21,306.27 79.02,305.20 79.21,304.12 78.18,303.75" fill="none" stroke="#c41f30" stroke-width="1.45"/>
<polygon points="88.66,309.15 87.82,309.85 86.79,310.23 86.98,311.30 86.79,312.38 87.82,312.75 88.66,313.45 89.49,312.75 90.52,312.38 90.33,311.30 90.52,310.23 89.49,309.85" fill="none" stroke="#c41f30" stroke-width="1.45"/>
<polygon points="99.97,316.45 99.13,317.15 98.10,317.53 98.29,318.60 98.10,319.68 99.13,320.05 99.97,320.75 100.81,320.05 101.83,319.68 101.64,318.60 101.83,317.53 100.81,317.15" fill="none" stroke="#c41f30" stroke-width="1.45"/>
<polygon points="111.28,328.45 110.44,329.15 109.42,329.53 109.60,330.60 109.42,331.68 110.44,332.05 111.28,332.75 112.12,332.05 113.14,331.68 112.95,330.60 113.14,329.53 112.12,329.15" fill="none" stroke="#c41f30" stroke-width="1.45"/>
<polygon points="122.59,348.05 121.75,348.75 120.73,349.12 120.91,350.20 120.73,351.27 121.75,351.65 122.59,352.35 123.43,351.65 124.45,351.27 124.27,350.20 124.45,349.12 123.43,348.75" fill="none" stroke="#c41f30" stroke-width="1.45"/>
<polygon points="133.90,364.65 133.06,365.35 132.04,365.73 132.22,366.80 132.04,367.88 133.06,368.25 133.90,368.95 134.74,368.25 135.76,367.88 135.58,366.80 135.76,365.73 134.74,365.35" fill="none" stroke="#c41f30" stroke-width="1.45"/>
<polygon points="145.21,346.85 144.37,347.55 143.35,347.93 143.53,349.00 143.35,350.07 144.37,350.45 145.21,351.15 146.05,350.45 147.07,350.07 146.89,349.00 147.07,347.93 146.05,347.55" fill="none" stroke="#c41f30" stroke-width="1.45"/>
<polygon points="156.52,336.55 155.68,337.25 154.66,337.62 154.85,338.70 154.66,339.77 155.68,340.15 156.52,340.85 157.36,340.15 158.38,339.77 158.20,338.70 158.38,337.62 157.36,337.25" fill="none" stroke="#c41f30" stroke-width="1.45"/>
<polygon points="167.83,328.75 166.99,329.45 165.97,329.82 166.16,330.90 165.97,331.97 166.99,332.35 167.83,333.05 168.67,332.35 169.70,331.97 169.51,330.90 169.70,329.82 168.67,329.45" fill="none" stroke="#c41f30" stroke-width="1.45"/>
<polygon points="179.14,278.05 178.31,278.75 177.28,279.12 177.47,280.20 177.28,281.27 178.31,281.65 179.14,282.35 179.98,281.65 181.01,281.27 180.82,280.20 181.01,279.12 179.98,278.75" fill="none" stroke="#c41f30" stroke-width="1.45"/>
<polygon points="190.46,284.15 189.62,284.85 188.59,285.23 188.78,286.30 188.59,287.38 189.62,287.75 190.46,288.45 191.29,287.75 192.32,287.38 192.13,286.30 192.32,285.23 191.29,284.85" fill="none" stroke="#c41f30" stroke-width="1.45"/>
<polygon points="201.77,278.05 200.93,278.75 199.90,279.12 200.09,280.20 199.90,281.27 200.93,281.65 201.77,282.35 202.61,281.65 203.63,281.27 203.44,280.20 203.63,279.12 202.61,278.75" fill="none" stroke="#c41f30" stroke-width="1.45"/>
<polygon points="213.08,249.65 212.24,250.35 211.22,250.73 211.40,251.80 211.22,252.88 212.24,253.25 213.08,253.95 213.92,253.25 214.94,252.88 214.75,251.80 214.94,250.73 213.92,250.35" fill="none" stroke="#c41f30" stroke-width="1.45"/>
<polygon points="224.39,250.65 223.55,251.35 222.53,251.73 222.71,252.80 222.53,253.88 223.55,254.25 224.39,254.95 225.23,254.25 226.25,253.88 226.07,252.80 226.25,251.73 225.23,251.35" fill="none" stroke="#c41f30" stroke-width="1.45"/>
<polygon points="235.70,237.95 234.86,238.65 233.84,239.03 234.02,240.10 233.84,241.17 234.86,241.55 235.70,242.25 236.54,241.55 237.56,241.17 237.38,240.10 237.56,239.03 236.54,238.65" fill="none" stroke="#c41f30" stroke-width="1.45"/>
<polyline points="291.50,232.80 301.91,214.30 312.32,215.30 322.73,221.20 333.14,228.20 343.55,238.30 353.96,247.20 364.37,258.30 374.78,273.80 385.19,303.00 395.60,339.60 406.01,359.00 416.42,358.20 426.83,351.50 437.24,344.80 447.65,336.00 458.06,326.70 468.47,317.70 478.88,299.70 489.29,271.00 499.70,233.10" fill="none" stroke="#3232a8" stroke-width="1.35" stroke-linejoin="round"/>
<polygon points="291.50,243.35 290.66,244.05 289.64,244.43 289.82,245.50 289.64,246.57 290.66,246.95 291.50,247.65 292.34,246.95 293.36,246.57 293.18,245.50 293.36,244.43 292.34,244.05" fill="none" stroke="#c41f30" stroke-width="1.45"/>
<polygon points="301.91,239.25 301.07,239.95 300.05,240.33 300.23,241.40 300.05,242.47 301.07,242.85 301.91,243.55 302.75,242.85 303.77,242.47 303.59,241.40 303.77,240.33 302.75,239.95" fill="none" stroke="#c41f30" stroke-width="1.45"/>
<polygon points="312.32,213.05 311.48,213.75 310.46,214.12 310.64,215.20 310.46,216.27 311.48,216.65 312.32,217.35 313.16,216.65 314.18,216.27 314.00,215.20 314.18,214.12 313.16,213.75" fill="none" stroke="#c41f30" stroke-width="1.45"/>
<polygon points="322.73,213.25 321.89,213.95 320.87,214.33 321.05,215.40 320.87,216.47 321.89,216.85 322.73,217.55 323.57,216.85 324.59,216.47 324.41,215.40 324.59,214.33 323.57,213.95" fill="none" stroke="#c41f30" stroke-width="1.45"/>
<polygon points="333.14,217.25 332.30,217.95 331.28,218.33 331.46,219.40 331.28,220.47 332.30,220.85 333.14,221.55 333.98,220.85 335.00,220.47 334.82,219.40 335.00,218.33 333.98,217.95" fill="none" stroke="#c41f30" stroke-width="1.45"/>
<polygon points="343.55,238.75 342.71,239.45 341.69,239.83 341.87,240.90 341.69,241.97 342.71,242.35 343.55,243.05 344.39,242.35 345.41,241.97 345.23,240.90 345.41,239.83 344.39,239.45" fill="none" stroke="#c41f30" stroke-width="1.45"/>
<polygon points="353.96,257.75 353.12,258.45 352.10,258.82 352.28,259.90 352.10,260.97 353.12,261.35 353.96,262.05 354.80,261.35 355.82,260.97 355.64,259.90 355.82,258.82 354.80,258.45" fill="none" stroke="#c41f30" stroke-width="1.45"/>
<polygon points="364.37,264.45 363.53,265.15 362.51,265.53 362.69,266.60 362.51,267.68 363.53,268.05 364.37,268.75 365.21,268.05 366.23,267.68 366.05,266.60 366.23,265.53 365.21,265.15" fill="none" stroke="#c41f30" stroke-width="1.45"/>
<polygon points="374.78,315.55 373.94,316.25 372.92,316.62 373.10,317.70 372.92,318.77 373.94,319.15 374.78,319.85 375.62,319.15 376.64,318.77 376.46,317.70 376.64,316.62 375.62,316.25" fill="none" stroke="#c41f30" stroke-width="1.45"/>
<polygon points="385.19,325.85 384.35,326.55 383.33,326.93 383.51,328.00 383.33,329.07 384.35,329.45 385.19,330.15 386.03,329.45 387.05,329.07 386.87,328.00 387.05,326.93 386.03,326.55" fill="none" stroke="#c41f30" stroke-width="1.45"/>
<polygon points="395.60,334.35 394.76,335.05 393.74,335.43 393.92,336.50 393.74,337.57 394.76,337.95 395.60,338.65 396.44,337.95 397.46,337.57 397.28,336.50 397.46,335.43 396.44,335.05" fill="none" stroke="#c41f30" stroke-width="1.45"/>
<polygon points="406.01,355.55 405.17,356.25 404.15,356.62 404.33,357.70 404.15,358.77 405.17,359.15 406.01,359.85 406.85,359.15 407.87,358.77 407.69,357.70 407.87,356.62 406.85,356.25" fill="none" stroke="#c41f30" stroke-width="1.45"/>
<polygon points="416.42,361.25 415.58,361.95 414.56,362.32 414.74,363.40 414.56,364.47 415.58,364.85 416.42,365.55 417.26,364.85 418.28,364.47 418.10,363.40 418.28,362.32 417.26,361.95" fill="none" stroke="#c41f30" stroke-width="1.45"/>
<polygon points="426.83,359.65 425.99,360.35 424.97,360.73 425.15,361.80 424.97,362.88 425.99,363.25 426.83,363.95 427.67,363.25 428.69,362.88 428.51,361.80 428.69,360.73 427.67,360.35" fill="none" stroke="#c41f30" stroke-width="1.45"/>
<polygon points="437.24,356.55 436.40,357.25 435.38,357.62 435.56,358.70 435.38,359.77 436.40,360.15 437.24,360.85 438.08,360.15 439.10,359.77 438.92,358.70 439.10,357.62 438.08,357.25" fill="none" stroke="#c41f30" stroke-width="1.45"/>
<polygon points="447.65,344.45 446.81,345.15 445.79,345.53 445.97,346.60 445.79,347.68 446.81,348.05 447.65,348.75 448.49,348.05 449.51,347.68 449.33,346.60 449.51,345.53 448.49,345.15" fill="none" stroke="#c41f30" stroke-width="1.45"/>
<polygon points="458.06,322.75 457.22,323.45 456.20,323.82 456.38,324.90 456.20,325.97 457.22,326.35 458.06,327.05 458.90,326.35 459.92,325.97 459.74,324.90 459.92,323.82 458.90,323.45" fill="none" stroke="#c41f30" stroke-width="1.45"/>
<polygon points="468.47,265.95 467.63,266.65 466.61,267.03 466.79,268.10 466.61,269.18 467.63,269.55 468.47,270.25 469.31,269.55 470.33,269.18 470.15,268.10 470.33,267.03 469.31,266.65" fill="none" stroke="#c41f30" stroke-width="1.45"/>
<polygon points="478.88,232.15 478.04,232.85 477.02,233.23 477.20,234.30 477.02,235.38 478.04,235.75 478.88,236.45 479.72,235.75 480.74,235.38 480.56,234.30 480.74,233.23 479.72,232.85" fill="none" stroke="#c41f30" stroke-width="1.45"/>
<polygon points="489.29,233.45 488.45,234.15 487.43,234.53 487.61,235.60 487.43,236.67 488.45,237.05 489.29,237.75 490.13,237.05 491.15,236.67 490.97,235.60 491.15,234.53 490.13,234.15" fill="none" stroke="#c41f30" stroke-width="1.45"/>
<polygon points="499.70,243.15 498.86,243.85 497.84,244.23 498.02,245.30 497.84,246.38 498.86,246.75 499.70,247.45 500.54,246.75 501.56,246.38 501.38,245.30 501.56,244.23 500.54,243.85" fill="none" stroke="#c41f30" stroke-width="1.45"/>
<rect x="183" y="14.5" width="53.00" height="20.70" fill="#fff" stroke="#c4c4c4" stroke-width="1"/>
<polygon points="188.50,17.95 187.66,18.65 186.64,19.03 186.82,20.10 186.64,21.18 187.66,21.55 188.50,22.25 189.34,21.55 190.36,21.18 190.18,20.10 190.36,19.03 189.34,18.65" fill="none" stroke="#c41f30" stroke-width="1.45"/>
<text x="193.60" y="22.80" class="l">Experiment</text>
<line x1="184.10" y1="29.60" x2="192.90" y2="29.60" stroke="#3232a8" stroke-width="1.1"/>
<text x="193.60" y="32.80" class="l">Theory</text>
<rect x="380.3" y="29.5" width="53.20" height="20.70" fill="#fff" stroke="#c4c4c4" stroke-width="1"/>
<polygon points="385.80,32.95 384.96,33.65 383.94,34.02 384.12,35.10 383.94,36.17 384.96,36.55 385.80,37.25 386.64,36.55 387.66,36.18 387.48,35.10 387.66,34.02 386.64,33.65" fill="none" stroke="#c41f30" stroke-width="1.45"/>
<text x="390.90" y="37.80" class="l">Experiment</text>
<line x1="381.40" y1="44.60" x2="390.20" y2="44.60" stroke="#3232a8" stroke-width="1.1"/>
<text x="390.90" y="47.80" class="l">Theory</text>
<rect x="109.2" y="236.4" width="53.00" height="20.70" fill="#fff" stroke="#c4c4c4" stroke-width="1"/>
<polygon points="114.70,239.85 113.86,240.55 112.84,240.93 113.02,242.00 112.84,243.07 113.86,243.45 114.70,244.15 115.54,243.45 116.56,243.07 116.38,242.00 116.56,240.93 115.54,240.55" fill="none" stroke="#c41f30" stroke-width="1.45"/>
<text x="119.80" y="244.70" class="l">Experiment</text>
<line x1="110.30" y1="251.50" x2="119.10" y2="251.50" stroke="#3232a8" stroke-width="1.1"/>
<text x="119.80" y="254.70" class="l">Theory</text>
<rect x="398.3" y="216.4" width="53.40" height="21.10" fill="#fff" stroke="#c4c4c4" stroke-width="1"/>
<polygon points="403.80,219.85 402.96,220.55 401.94,220.93 402.12,222.00 401.94,223.07 402.96,223.45 403.80,224.15 404.64,223.45 405.66,223.07 405.48,222.00 405.66,220.93 404.64,220.55" fill="none" stroke="#c41f30" stroke-width="1.45"/>
<text x="408.90" y="224.70" class="l">Experiment</text>
<line x1="399.40" y1="231.50" x2="408.20" y2="231.50" stroke="#3232a8" stroke-width="1.1"/>
<text x="408.90" y="234.70" class="l">Theory</text>
</svg>
</body></html>
